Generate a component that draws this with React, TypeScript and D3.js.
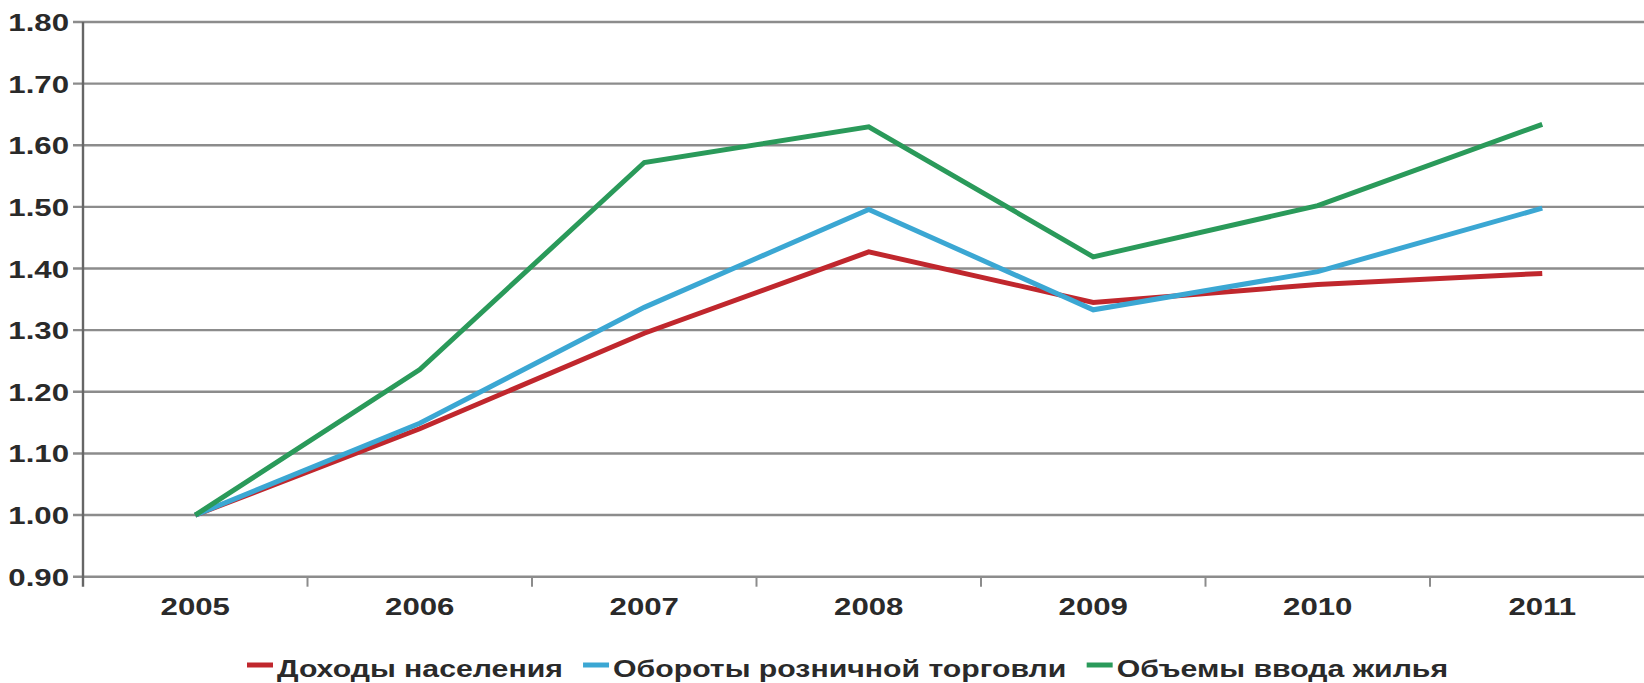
import React from "react";
import * as d3 from "d3";

const years = ["2005", "2006", "2007", "2008", "2009", "2010", "2011"];
const incomes = [1.0, 1.14, 1.295, 1.427, 1.345, 1.374, 1.392];
const retail = [1.0, 1.149, 1.337, 1.496, 1.333, 1.395, 1.498];
const housing = [1.0, 1.236, 1.572, 1.63, 1.419, 1.502, 1.634];
const yTicks = [0.9, 1.0, 1.1, 1.2, 1.3, 1.4, 1.5, 1.6, 1.7, 1.8];
const seriesNames = ["Доходы населения", "Обороты розничной торговли", "Объемы ввода жилья"];
const seriesColors = ["#c0272d", "#3ba7d3", "#2a9a5a"];

const W = 1644;
const H = 683;
const left = 83;
const band = 224.5;
const top = 22;
const bottom = 576.7;
const FONT = "'Liberation Sans', Arial, sans-serif";
const FS = 24;
const SX = 1.3;
const LSX = 1.26;

function measure(text: string): number {
  const c = document.createElement("canvas");
  const ctx = c.getContext("2d");
  if (!ctx) return text.length * FS * 0.6;
  ctx.font = `bold ${FS}px ${FONT}`;
  return ctx.measureText(text).width;
}

export default function App() {
  const x = d3.scaleBand<string>().domain(years).range([left, left + band * years.length]).padding(0);
  const y = d3.scaleLinear().domain([0.9, 1.8]).range([bottom, top]);
  const cx = (yr: string) => (x(yr) as number) + x.bandwidth() / 2;
  const line = d3
    .line<number>()
    .x((_, i) => cx(years[i]))
    .y((v) => y(v));
  const series = [incomes, retail, housing];
  const textColor = "#2a2a2a";

  const markerW = 26;
  const markerGap = 4;
  const itemGap = 20;
  let lx = 247;
  const legendItems = seriesNames.map((n, i) => {
    const w = measure(n) * LSX;
    const item = { name: n, color: seriesColors[i], x: lx };
    lx += markerW + markerGap + w + itemGap;
    return item;
  });

  return (
    <svg width={W} height={H} style={{ position: "absolute", left: 0, top: 0, background: "#fff" }}>
      <rect x={0} y={0} width={W} height={H} fill="#fff" />
      {yTicks.map((t) => (
        <g key={t}>
          <line x1={73} x2={W} y1={y(t)} y2={y(t)} stroke="#8c8c8c" strokeWidth={2.4} />
          <text
            transform={`translate(69,${y(t) + 9}) scale(${SX},1)`}
            textAnchor="end"
            fontFamily={FONT}
            fontWeight="bold"
            fontSize={FS}
            fill={textColor}
          >
            {t.toFixed(2)}
          </text>
        </g>
      ))}
      {years.map((yr, i) =>
        i === 0 ? null : (
          <line
            key={"t" + yr}
            x1={x(yr) as number}
            x2={x(yr) as number}
            y1={bottom}
            y2={bottom + 10}
            stroke="#8c8c8c"
            strokeWidth={2}
          />
        )
      )}
      <line x1={left} x2={left} y1={top} y2={bottom + 10} stroke="#666" strokeWidth={2.4} />
      {years.map((yr) => (
        <text
          key={"l" + yr}
          transform={`translate(${cx(yr)},615) scale(${SX},1)`}
          textAnchor="middle"
          fontFamily={FONT}
          fontWeight="bold"
          fontSize={FS}
          fill={textColor}
        >
          {yr}
        </text>
      ))}
      {series.map((s, i) => (
        <path
          key={"s" + i}
          d={line(s) || ""}
          fill="none"
          stroke={seriesColors[i]}
          strokeWidth={5}
          strokeLinejoin="miter"
        />
      ))}
      {legendItems.map((it, i) => (
        <g key={"lg" + i}>
          <line x1={it.x} x2={it.x + markerW} y1={665} y2={665} stroke={it.color} strokeWidth={5} />
          <text
            transform={`translate(${it.x + markerW + markerGap},677) scale(${LSX},1)`}
            fontFamily={FONT}
            fontWeight="bold"
            fontSize={FS}
            fill={textColor}
          >
            {it.name}
          </text>
        </g>
      ))}
    </svg>
  );
}
